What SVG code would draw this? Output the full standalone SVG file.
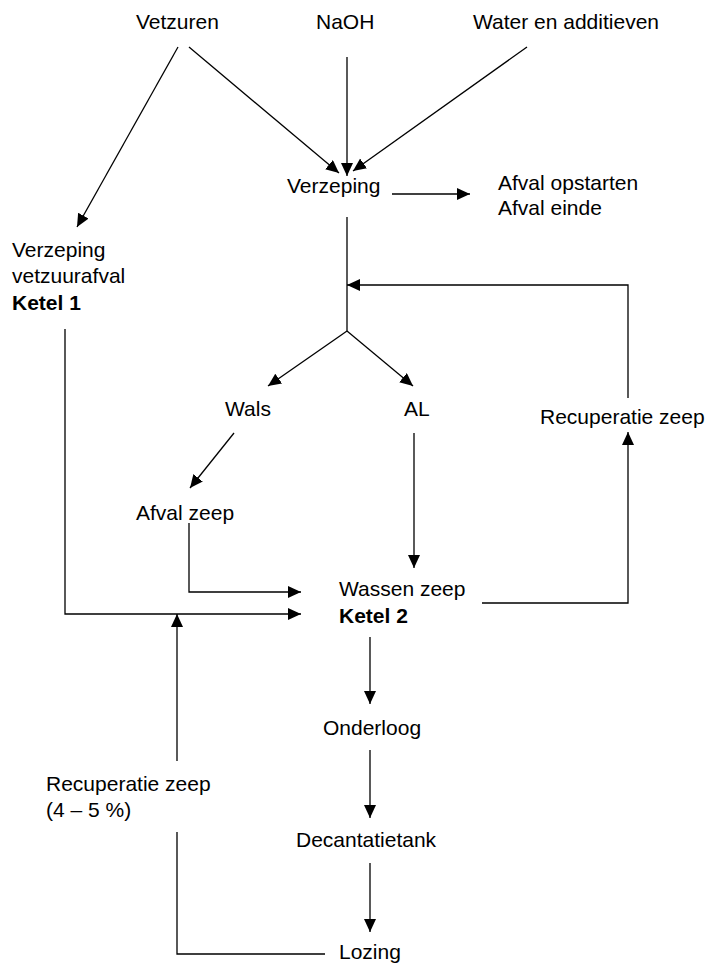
<svg xmlns="http://www.w3.org/2000/svg" width="716" height="963" viewBox="0 0 716 963">
<style>
text{font-family:"Liberation Sans",Arial,sans-serif;font-size:21px;fill:#000}
.b{font-weight:bold}
.c line,.c polyline{stroke:#000;stroke-width:1.3;fill:none}
.a{marker-end:url(#ah)}
</style>
<defs>
<marker id="ah" markerUnits="userSpaceOnUse" markerWidth="14" markerHeight="13" refX="13" refY="6" orient="auto">
<path d="M0,0 L13,6 L0,12 z" fill="#000"/>
</marker>
</defs>
<rect width="716" height="963" fill="#fff"/>
<g id="n-vetzuren"><text x="136" y="29">Vetzuren</text></g>
<g id="n-naoh"><text x="316" y="29">NaOH</text></g>
<g id="n-water"><text x="473" y="29">Water en additieven</text></g>
<g id="n-verzeping"><text x="287" y="193">Verzeping</text></g>
<g id="n-afval"><text x="498" y="190">Afval opstarten</text><text x="498" y="215">Afval einde</text></g>
<g id="n-ketel1"><text x="12" y="257">Verzeping</text><text x="12" y="283">vetzuurafval</text><text class="b" x="12" y="310">Ketel 1</text></g>
<g id="n-wals"><text x="225" y="416">Wals</text></g>
<g id="n-al"><text x="404" y="416">AL</text></g>
<g id="n-recup1"><text x="540" y="424">Recuperatie zeep</text></g>
<g id="n-afvalzeep"><text x="136" y="520">Afval zeep</text></g>
<g id="n-ketel2"><text x="339" y="596">Wassen zeep</text><text class="b" x="339" y="623">Ketel 2</text></g>
<g id="n-onderloog"><text x="323" y="735">Onderloog</text></g>
<g id="n-recup2"><text x="46" y="791">Recuperatie zeep</text><text x="46" y="817">(4 – 5 %)</text></g>
<g id="n-decant"><text x="296" y="847">Decantatietank</text></g>
<g id="n-lozing"><text x="339" y="959">Lozing</text></g>
<g id="connectors" class="c">
<line class="a" x1="178" y1="47" x2="77" y2="227"/>
<line class="a" x1="189" y1="47" x2="339" y2="173"/>
<line class="a" x1="347" y1="57" x2="347" y2="176"/>
<line class="a" x1="527" y1="47" x2="353" y2="171"/>
<line class="a" x1="392" y1="194" x2="470" y2="194"/>
<line x1="347" y1="217" x2="347" y2="331"/>
<line class="a" x1="347" y1="331" x2="268" y2="386"/>
<line class="a" x1="347" y1="331" x2="413" y2="386"/>
<polyline class="a" points="628,398 628,285 347,285"/>
<line class="a" x1="234" y1="433" x2="190" y2="488"/>
<line class="a" x1="414" y1="433" x2="414" y2="568"/>
<polyline class="a" points="189,523 189,592 301,592"/>
<polyline class="a" points="65,329 65,614 301,614"/>
<polyline class="a" points="482,603 628,603 628,432"/>
<line class="a" x1="177" y1="761" x2="177" y2="614"/>
<polyline points="177,832 177,954 325,954"/>
<line class="a" x1="370" y1="637" x2="370" y2="704"/>
<line class="a" x1="370" y1="750" x2="370" y2="818"/>
<line class="a" x1="370" y1="863" x2="370" y2="932"/>
</g>
</svg>
